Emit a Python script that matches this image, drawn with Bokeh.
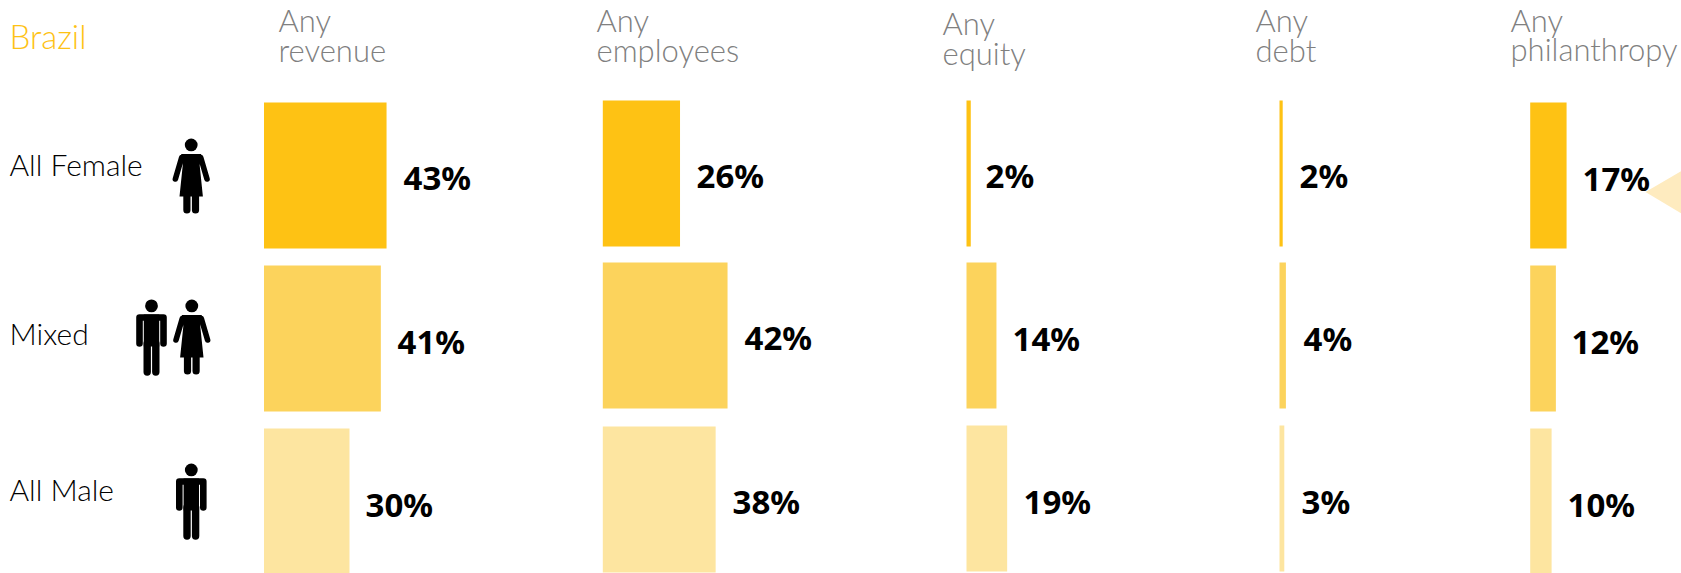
from bokeh.core.properties import value
from bokeh.embed import file_html
from bokeh.models import ColumnDataSource, Range1d
from bokeh.plotting import figure
from bokeh.resources import INLINE

# Share of ventures reporting each kind of funding, by founding team
TEAMS = ["All Female", "Mixed", "All Male"]
MEASURES = ["Any\nrevenue", "Any\nemployees", "Any\nequity", "Any\ndebt", "Any\nphilanthropy"]
REVENUE = [43, 41, 30]
EMPLOYEES = [26, 42, 38]
EQUITY = [2, 14, 19]
DEBT = [2, 4, 3]
PHILANTHROPY = [17, 12, 10]
COLUMNS = [REVENUE, EMPLOYEES, EQUITY, DEBT, PHILANTHROPY]
COLORS = ["#FEC214", "#FCD35C", "#FDE5A0"]

W, H = 1681, 573
LIGHT = value("Lato Light")
p = figure(width=W, height=H, output_backend="svg", toolbar_location=None,
           x_range=Range1d(0, W), y_range=Range1d(H, 0), min_border=0,
           outline_line_color=None, background_fill_color="white")
p.axis.visible = False
p.grid.visible = False

# Each panel has its own x scale: (screen px of zero, screen px per percent)
PANEL_X = [(263.5, 2.85), (602.3, 2.97), (966, 2.14), (1279, 1.6), (1529.7, 2.14)]
PANEL_TOPS = [(102, 265, 428), (100, 262, 426), (100, 262, 425), (100, 262, 425), (102, 265, 428)]
BAR_HEIGHT = 146
LABEL_X = [(403, 397, 365), (696, 744, 732), (985, 1012, 1023), (1299, 1303, 1301), (1582, 1571, 1567)]
LABEL_Y = [(177, 341, 504), (175, 337, 501), (175, 338, 501), (175, 338, 501), (178, 341, 504)]
HEADER_X = [278, 596, 942, 1255, 1510]
HEADER_Y = [(19, 49), (19, 49), (22, 52), (19, 49), (19, 48)]

for i, vals in enumerate(COLUMNS):
    x0, scale = PANEL_X[i]
    name = f"panel{i}"
    p.extra_x_ranges[name] = Range1d(-x0 / scale, (W - x0) / scale)
    tops = PANEL_TOPS[i]
    src = ColumnDataSource(dict(
        left=[0] * 3, right=vals, top=tops,
        bottom=[t + BAR_HEIGHT for t in tops], color=COLORS))
    p.quad(left="left", right="right", top="top", bottom="bottom", color="color",
           line_color=None, source=src, x_range_name=name)
    p.text(x=list(LABEL_X[i]), y=list(LABEL_Y[i]), text=[f"{v}%" for v in vals],
           text_font=value("Noto Sans"), text_font_style="bold", text_font_size="33px",
           text_color="black", text_align="left", text_baseline="middle")
    first, second = MEASURES[i].split("\n")
    p.text(x=[HEADER_X[i]] * 2, y=list(HEADER_Y[i]), text=[first, second],
           text_font=LIGHT, text_font_size="31px", text_color="#808080",
           text_align="left", text_baseline="middle")

p.text(x=[9], y=[35], text=["Brazil"], text_font=LIGHT, text_font_size="33px",
       text_color="#FEC214", text_baseline="middle")
p.text(x=[9, 9, 9], y=[163, 332, 488], text=TEAMS, text_font=LIGHT,
       text_font_size="30px", text_color="black", text_baseline="middle")

# Callout pointer running off the right edge
p.patch(x=[1645, 1681, 1681], y=[191.5, 170.5, 213], color="#FEEBBF", line_color=None)


def man(cx, top):
    p.circle(x=[cx], y=[top + 6.4], radius=6.4, color="black", line_color=None)
    p.line(x=[cx - 12, cx - 12, cx + 12, cx + 12],
           y=[top + 44, top + 18, top + 18, top + 44],
           line_width=6.6, line_color="black", line_cap="round", line_join="round")
    p.patch(x=[cx - 7.7, cx + 7.7, cx + 7.7, cx - 7.7],
            y=[top + 15, top + 15, top + 47, top + 47], color="black", line_color=None)
    p.multi_line(xs=[[cx - 4.3, cx - 4.3], [cx + 4.3, cx + 4.3]],
                 ys=[[top + 44, top + 72.5], [top + 44, top + 72.5]],
                 line_width=7.4, line_color="black", line_cap="round")


def woman(cx, top):
    p.circle(x=[cx], y=[top + 6.4], radius=6.4, color="black", line_color=None)
    p.multi_line(xs=[[cx - 9.5, cx - 15.8], [cx + 9.5, cx + 15.8]],
                 ys=[[top + 19, top + 40.5], [top + 19, top + 40.5]],
                 line_width=5.6, line_color="black", line_cap="round")
    p.patch(x=[cx - 10, cx + 10, cx + 8.5, cx + 11.7, cx - 11.7, cx - 8.5],
            y=[top + 15.5, top + 15.5, top + 27, top + 58, top + 58, top + 27],
            color="black", line_color=None)
    p.multi_line(xs=[[cx - 4.3, cx - 4.3], [cx + 4.3, cx + 4.3]],
                 ys=[[top + 55, top + 71.5], [top + 55, top + 71.5]],
                 line_width=7.2, line_color="black", line_cap="round")


woman(190.7, 138)
man(151, 299)
woman(191.3, 299)
man(190.8, 463)

open("out.html", "w").write(file_html(p, INLINE))
